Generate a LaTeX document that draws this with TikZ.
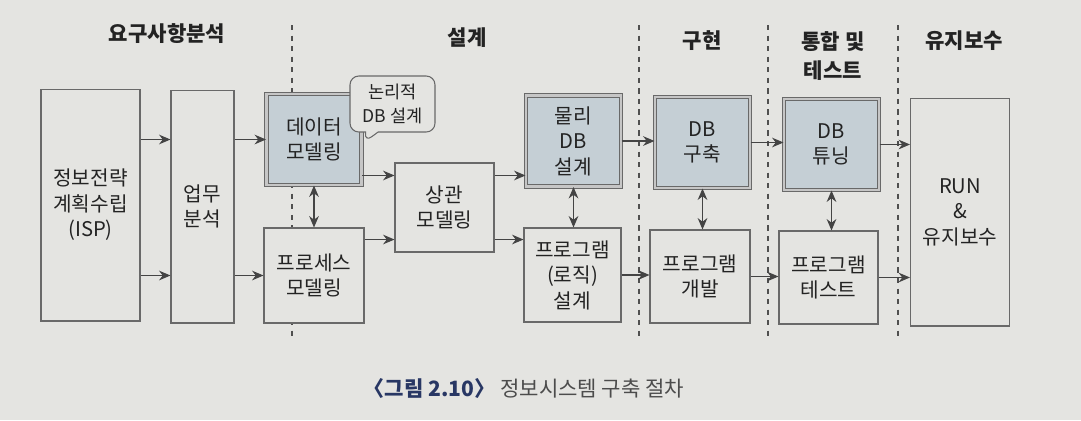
\documentclass[tikz,border=0pt]{standalone}
\usepackage{fontspec}
\setmainfont{Noto Sans CJK KR}
\usetikzlibrary{arrows.meta,positioning,shapes.callouts,backgrounds}
\definecolor{paper}{RGB}{228,228,225}
\definecolor{dbfill}{RGB}{197,207,213}
\definecolor{rim}{RGB}{105,105,105}
\definecolor{ink}{RGB}{35,35,35}
\definecolor{capblue}{RGB}{40,55,100}

\begin{document}
\begin{tikzpicture}[x=0.02cm,y=-0.02cm]
	\tikzstyle{stagebox}=[draw=rim,fill=paper,line width=0.6pt,inner sep=0pt,align=center,text=ink,font=\fontsize{11.5}{14.5}\selectfont,minimum width=2cm,minimum height=1.9cm]
	\tikzstyle{dbbox}=[stagebox,fill=dbfill,double=gray!45,double distance=1.5pt,line width=0.6pt,minimum width=1.9cm,minimum height=1.82cm]
	\tikzstyle{phase}=[font=\bfseries\fontsize{12}{16}\selectfont,text=ink,align=center]
	\tikzstyle{flow}=[draw=ink!85,line width=0.6pt,-{Stealth[length=6.5pt,width=5.5pt]}]
	\tikzstyle{both}=[draw=ink!85,line width=0.6pt,{Stealth[length=6.5pt,width=5.5pt]}-{Stealth[length=6.5pt,width=5.5pt]}]
	\tikzstyle{divider}=[draw=ink!80,dashed,line width=0.6pt]

	\fill[paper] (0,0) rectangle (1081,420);
	\useasboundingbox (0,0) rectangle (1081,420);

	\foreach \x in {292,639,768,898}
		\draw[divider] (\x,25) -- (\x,341);

	\node[phase] (reqtitle) at (167,34) {요구사항분석};
	\node[phase] (destitle) at (467,38) {설계};
	\node[phase] (imptitle) at (702,41) {구현};
	\node[phase] (inttitle) at (833,56) {통합 및\\테스트};
	\node[phase] (mnttitle) at (964,41) {유지보수};

	\node[stagebox,minimum width=1.98cm,minimum height=4.64cm] (isp) at (90.5,205) {정보전략\\계획수립\\(ISP)};
	\node[stagebox,minimum width=1.26cm,minimum height=4.66cm] (biz) at (202.5,206.5) {업무\\분석};
	\node[dbbox] (data) at (314,139.5) {데이터\\모델링};
	\node[stagebox] (proc) at (314,275.5) {프로세스\\모델링};
	\node[stagebox,minimum width=1.98cm,minimum height=1.78cm] (corr) at (444.5,207.5) {상관\\모델링};
	\node[dbbox] (phys) at (573.5,141) {물리\\DB\\설계};
	\node[stagebox,minimum width=1.94cm,minimum height=1.88cm] (logic) at (572.5,275) {프로그램\\(로직)\\설계};
	\node[dbbox] (build) at (702.5,142.5) {DB\\구축};
	\node[stagebox,minimum height=1.86cm] (dev) at (700,276.5) {프로그램\\개발};
	\node[dbbox] (tune) at (831.5,144.5) {DB\\튜닝};
	\node[stagebox,minimum width=1.98cm,minimum height=1.86cm] (test) at (828.5,277.5) {프로그램\\테스트};
	\node[stagebox,minimum width=1.98cm,minimum height=4.56cm] (run) at (960,212) {RUN\\\&\\유지보수};

	\coordinate (tip) at ([xshift=0.05cm,yshift=-0.05cm]data.east);
	\node[rectangle callout,rounded corners=5pt,draw=rim,fill=paper,line width=0.6pt,align=center,font=\fontsize{10}{13.5}\selectfont,text=ink,minimum width=1.7cm,minimum height=1.12cm,inner sep=1pt,callout absolute pointer={(tip)}] (note) at (392.5,104) {논리적\\DB 설계};

	\coordinate (highin) at ([yshift=-0.26cm]corr.north west);
	\coordinate (lowin) at ([yshift=0.26cm]corr.south west);
	\draw[flow] (isp.east |- data) -- (biz.west |- data);
	\draw[flow] (isp.east |- proc) -- (biz.west |- proc);
	\draw[flow] (biz.east |- data) -- (data.west);
	\draw[flow] (biz.east |- proc) -- (proc.west);
	\draw[flow] (data.east |- highin) -- (highin);
	\draw[flow] (proc.east |- lowin) -- (lowin);
	\draw[flow] (corr.east |- highin) -- (phys.west |- highin);
	\draw[flow] (corr.east |- lowin) -- (logic.west |- lowin);
	\draw[flow] (phys.east) -- (phys.east -| build.west);
	\draw[flow] (build.east) -- (build.east -| tune.west);
	\draw[flow] (tune.east) -- (tune.east -| run.west);
	\draw[flow] (logic.east) -- (logic.east -| dev.west);
	\draw[flow] (dev.east) -- (dev.east -| test.west);
	\draw[flow] (test.east) -- (test.east -| run.west);
	\draw[both] (data.south) -- (data.south |- proc.north);
	\draw[both] (phys.south) -- (phys.south |- logic.north);
	\draw[both] (build.south) -- (build.south |- dev.north);
	\draw[both] (tune.south) -- (tune.south |- test.north);

	\node[font=\fontsize{12}{14}\selectfont] (caption) at (524,388) {\textcolor{capblue}{\bfseries 〈그림 2.10〉}\ \textcolor{gray!60!black}{정보시스템 구축 절차}};
\end{tikzpicture}
\end{document}
